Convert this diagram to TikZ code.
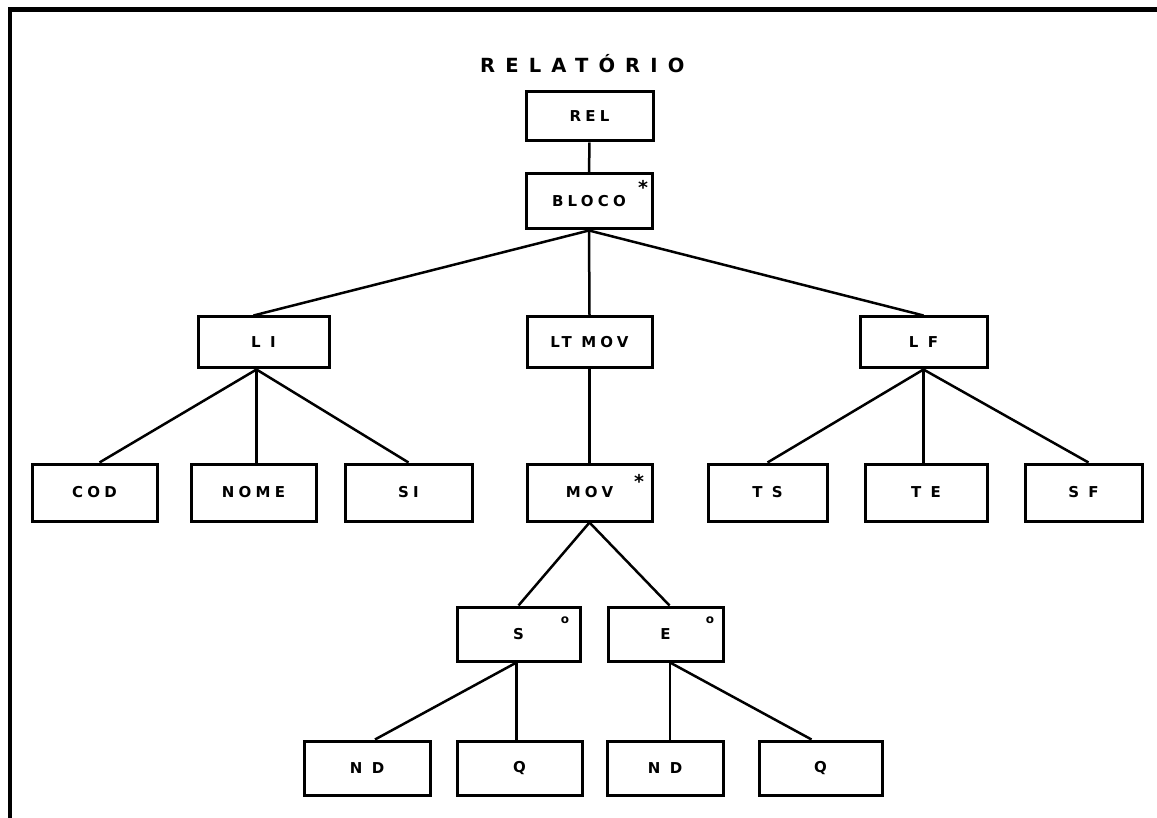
\documentclass[tikz,border=0pt]{standalone}
\usepackage{fontspec}
% letter-spaced heavy sans for the printed labels
\newfontfamily\lbl{DejaVu Sans Bold}[LetterSpace=28]
\newfontfamily\ttl{DejaVu Sans Bold}[LetterSpace=52]
\newfontfamily\mk{DejaVu Sans Bold}
\begin{document}
\begin{tikzpicture}[x=1pt,y=-1pt,
  blk/.style 2 args={draw, line width=3pt, inner sep=0pt,
    minimum width=#1pt, minimum height=#2pt,
    font=\lbl\fontsize{15}{15}\selectfont},
  link/.style={line width=2.5pt},
  itermark/.style={anchor=base, inner sep=0pt, font=\mk\fontsize{19}{19}\selectfont},
  selmark/.style={anchor=base, inner sep=0pt, font=\mk\fontsize{12}{12}\selectfont}
]
\useasboundingbox (0,0) rectangle (1157,818);

% open frame: left and top edges
\draw[line width=4.5pt] (10,818) -- (10,9.5) -- (1157,9.5);

% title
\node[anchor=base west, inner sep=0pt, font=\ttl\fontsize{19.5}{19.5}\selectfont] (title) at (480,73) {RELATÓRIO};

% level 1-2
\node[blk={127}{49}] (rel)   at (589.5,116.5) {REL};
\node[blk={126}{55}] (bloco) at (589,201.5)   {BLOCO};

% level 3
\node[blk={131}{51}] (li)    at (263.5,342.5) {L I};
\node[blk={125}{51}] (ltmov) at (589.5,342.5) {LT MOV};
\node[blk={127}{51}] (lf)    at (923.5,342.5) {L F};

% level 4
\node[blk={125}{57}] (cod)   at (94.5,492.5)   {COD};
\node[blk={125}{57}] (nome)  at (253.5,492.5)  {NOME};
\node[blk={127}{57}] (si)    at (408.5,492.5)  {SI};
\node[blk={125}{57}] (mov)   at (589.5,492.5)  {MOV};
\node[blk={119}{57}] (ts)    at (767.5,492.5)  {T S};
\node[blk={122}{57}] (te)    at (926,492.5)    {T E};
\node[blk={117}{57}] (sf)    at (1083.5,492.5) {S F};

% level 5
\node[blk={123}{54}] (s) at (518.5,634) {S};
\node[blk={115}{54}] (e) at (665.5,634) {E};

% level 6
\node[blk={126}{54}] (nda) at (367,768)   {N D};
\node[blk={125}{54}] (qa)  at (519.5,768) {Q};
\node[blk={116}{54}] (ndb) at (665,768)   {N D};
\node[blk={123}{54}] (qb)  at (820.5,768) {Q};

% iteration and selection marks
\node[itermark] (blocostar) at (643,195) {*};
\node[itermark] (movstar)   at (639,488) {*};
\node[selmark]  (ssel)      at (565,623) {o};
\node[selmark]  (esel)      at (710,623) {o};

% connectors
\draw[link] (rel.south) -- (bloco.north);
\draw[link] (bloco.south) -- ([xshift=-10pt]li.north);
\draw[link] (bloco.south) -- (ltmov.north);
\draw[link] (bloco.south) -- (lf.north);

\draw[link] ([xshift=-7pt]li.south) -- ([xshift=5pt]cod.north);
\draw[link] ([xshift=-7pt]li.south) -- ([xshift=-7pt]li.south |- nome.north);
\draw[link] ([xshift=-7pt]li.south) -- (si.north);

\draw[link] (ltmov.south) -- (mov.north);

\draw[link] (lf.south) -- (ts.north);
\draw[link] (lf.south) -- (lf.south |- te.north);
\draw[link] (lf.south) -- ([xshift=5pt]sf.north);

\draw[link] (mov.south) -- (s.north);
\draw[link] (mov.south) -- ([xshift=4pt]e.north);

\draw[link] ([xshift=-2pt]s.south) -- ([xshift=8pt]nda.north);
\draw[link] ([xshift=-2pt]s.south) -- ([xshift=-2pt]s.south |- qa.north);

\draw[link] ([xshift=4.5pt]e.south) -- ([xshift=4.5pt]e.south |- ndb.north);
\draw[link] ([xshift=4.5pt]e.south) -- ([xshift=-9pt]qb.north);
\end{tikzpicture}
\end{document}
